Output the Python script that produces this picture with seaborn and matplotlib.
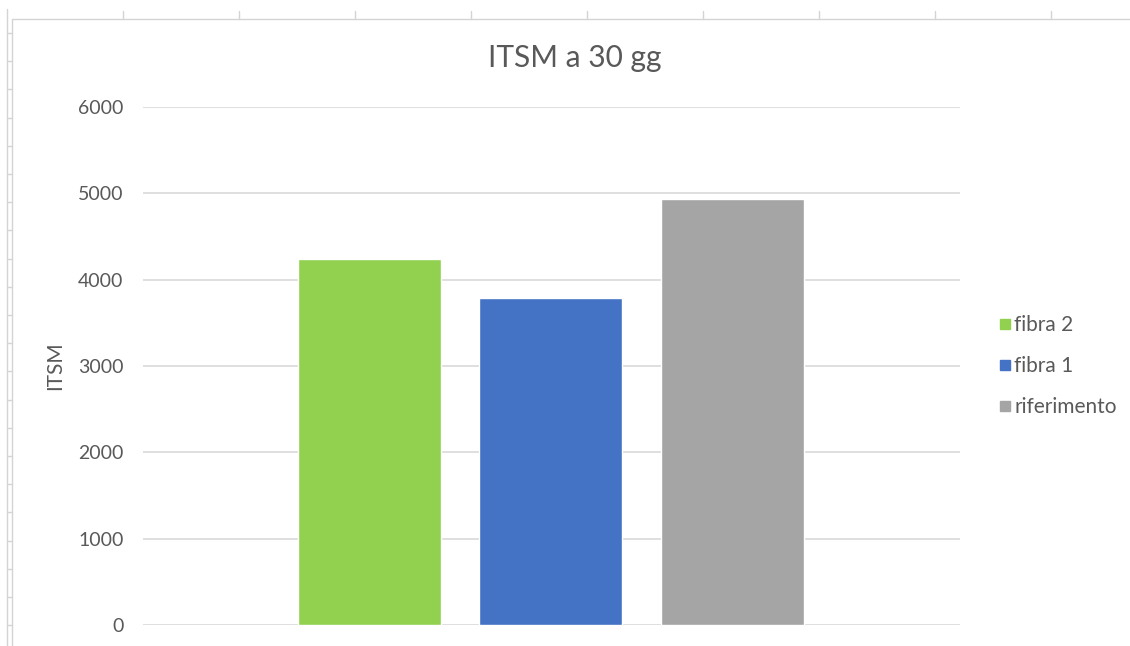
import matplotlib
matplotlib.use("Agg")
import matplotlib.pyplot as plt
from matplotlib.lines import Line2D
import seaborn as sns
import pandas as pd

# Indirect tensile stiffness modulus after 30 days, one bar per mix
series = ["fibra 2", "fibra 1", "riferimento"]
itsm = [4240, 3785, 4930]
colors = ["#92D050", "#4472C4", "#A5A5A5"]
yticks = [0, 1000, 2000, 3000, 4000, 5000, 6000]

TEXT = "#595959"
GRID = "#D9D9D9"

sns.set_theme(style="white")
plt.rcParams["font.family"] = ["Lato", "DejaVu Sans"]

W, H = 1130, 646
fig = plt.figure(figsize=(W / 100, H / 100), dpi=100)


def px(x0, y0, x1, y1, **kw):
    """Line on the figure given in pixel coordinates (origin top-left)."""
    fig.add_artist(Line2D([x0 / W, x1 / W], [1 - y0 / H, 1 - y1 / H],
                          transform=fig.transFigure, **kw))


# Worksheet frame around the chart object
sheet = dict(color="#D4D4D4", lw=1)
px(7, 9, 7, H, **sheet)
px(12, 19, 12, H, **sheet)
px(12, 19, W, 19, **sheet)
for x in range(123, W, 116):
    px(x, 11, x, 19, **sheet)
y = 33.0
while y < H:
    px(7, y, 12, y, **sheet)
    y += 28.2

ax = fig.add_axes([143 / W, 1 - 625 / H, (960 - 143) / W, (625 - 107) / H])

df = pd.DataFrame({"serie": series, "ITSM": itsm})
sns.barplot(data=df, x="serie", y="ITSM", hue="serie", palette=colors,
            width=0.788, saturation=1, legend=False, ax=ax)

ax.set_xlim(-1.248, 3.256)
ax.set_ylim(0, 6000)
ax.set_yticks(yticks)
ax.set_yticklabels([str(t) for t in yticks])
ax.set_xticks([])
ax.set_xlabel("")
ax.set_ylabel("ITSM", fontsize=15, color=TEXT)
ax.yaxis.set_label_coords(-0.0955, 0.5)
ax.yaxis.grid(True, color=GRID, lw=1.2)
ax.set_axisbelow(True)
for s in ax.spines.values():
    s.set_visible(False)
ax.tick_params(axis="y", length=0, pad=14, labelsize=14, labelcolor=TEXT)

fig.text(575 / W, 1 - 58 / H, "ITSM a 30 gg", ha="center", va="center",
         fontsize=21.5, color=TEXT)

handles = [Line2D([], [], marker="s", linestyle="", markersize=7.5,
                  markerfacecolor=c, markeredgecolor=c) for c in colors]
fig.legend(handles, series, loc="center left",
           bbox_to_anchor=(988 / W, 1 - 366 / H), frameon=False,
           fontsize=15, labelcolor=TEXT, handlelength=0.6,
           handletextpad=0.15, labelspacing=1.0, borderpad=0)

fig.savefig("out.png", dpi=100, facecolor="white")
